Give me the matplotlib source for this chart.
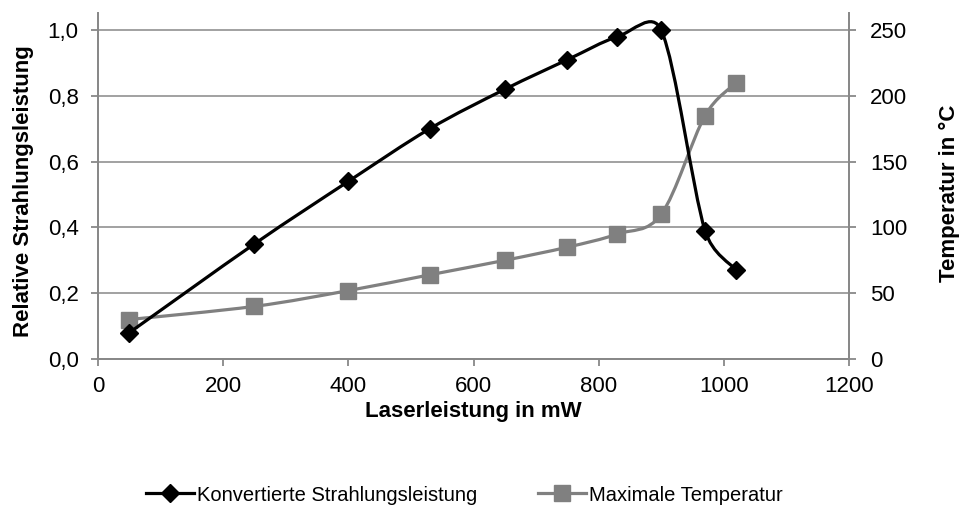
import matplotlib
matplotlib.use('Agg')
import math
import matplotlib.pyplot as plt
from matplotlib.path import Path
from matplotlib.patches import PathPatch
from matplotlib.lines import Line2D
from matplotlib.ticker import FuncFormatter

plt.rcParams['font.family'] = ['Liberation Sans', 'DejaVu Sans']

laser_mw = [50, 250, 400, 530, 650, 750, 830, 900, 970, 1020]
rel_leistung = [0.08, 0.35, 0.54, 0.70, 0.82, 0.91, 0.98, 1.00, 0.39, 0.27]
temperatur = [30, 40, 52, 64, 75, 85, 95, 110, 185, 210]

label_black = 'Konvertierte Strahlungsleistung'
label_gray = 'Maximale Temperatur'

BLACK = '#000000'
GRAY = '#808080'
AXIS = '#888888'


def smooth_path(a, xs, ys):
    # spreadsheet-style smoothed line: bezier segments, handles limited
    # to half the segment length (worked out in pixel space)
    tr = a.transData
    pts = [tuple(p) for p in tr.transform(list(zip(xs, ys)))]
    n = len(pts)

    def dist(p, q):
        return math.hypot(q[0] - p[0], q[1] - p[1])

    verts = [pts[0]]
    codes = [Path.MOVETO]
    for i in range(n - 1):
        p0 = pts[max(i - 1, 0)]
        p1 = pts[i]
        p2 = pts[i + 1]
        p3 = pts[min(i + 2, n - 1)]
        d12 = dist(p1, p2)
        d02 = dist(p0, p2)
        d13 = dist(p1, p3)
        f0 = min(1 / 6, d12 / 2 / d02) if d02 > 0 else 0
        f1 = min(1 / 6, d12 / 2 / d13) if d13 > 0 else 0
        c1 = (p1[0] + (p2[0] - p0[0]) * f0, p1[1] + (p2[1] - p0[1]) * f0)
        c2 = (p2[0] - (p3[0] - p1[0]) * f1, p2[1] - (p3[1] - p1[1]) * f1)
        verts += [c1, c2, p2]
        codes += [Path.CURVE4] * 3
    verts = tr.inverted().transform(verts)
    return Path(verts, codes)


fig = plt.figure(figsize=(9.65, 5.13), dpi=100)
ax = fig.add_axes([98 / 965, 154 / 513, 751 / 965, 346 / 513])
ax2 = ax.twinx()

# temperature (secondary axis) behind, power curve in front
ax.set_zorder(ax2.get_zorder() + 1)
ax.patch.set_visible(False)

ax.set_xlim(0, 1200)
ax.set_ylim(0, 1.052)
ax2.set_ylim(0, 263)
ax.set_xticks(range(0, 1201, 200))
ax.set_yticks([0, 0.2, 0.4, 0.6, 0.8, 1.0])
ax2.set_yticks(range(0, 251, 50))
ax.yaxis.set_major_formatter(FuncFormatter(lambda v, p: f'{v:.1f}'.replace('.', ',')))

ax2.add_patch(PathPatch(smooth_path(ax2, laser_mw, temperatur), facecolor='none',
                        edgecolor=GRAY, lw=2.3, zorder=2))
ax2.plot(laser_mw, temperatur, linestyle='none', marker='s', markersize=11.5,
         color=GRAY, zorder=3)

ax.add_patch(PathPatch(smooth_path(ax, laser_mw, rel_leistung), facecolor='none',
                       edgecolor=BLACK, lw=2.3, zorder=2))
ax.plot(laser_mw, rel_leistung, linestyle='none', marker='D', markersize=9.5,
        color=BLACK, zorder=3)

ax2.yaxis.grid(True, color=AXIS, lw=1.1)
ax2.set_axisbelow(True)

for a in (ax, ax2):
    a.spines['top'].set_visible(False)
    for s in ('left', 'right', 'bottom'):
        a.spines[s].set_color(AXIS)
        a.spines[s].set_linewidth(1.3)

ax.tick_params(axis='y', direction='out', length=5, width=1.3, color=AXIS,
               labelsize=16, pad=9)
ax.tick_params(axis='x', direction='out', length=5, width=1.3, color=AXIS,
               labelsize=16, pad=7)
ax2.tick_params(axis='y', direction='out', length=5, width=1.3, color=AXIS,
                labelsize=16, pad=10)

ax.set_xlabel('Laserleistung in mW', fontsize=16, fontweight='bold', labelpad=3)
ax.set_ylabel('Relative Strahlungsleistung', fontsize=16, fontweight='bold')
ax2.set_ylabel('Temperatur in °C', fontsize=16, fontweight='bold')
ax.yaxis.set_label_coords(-0.085, 0.486)
ax2.yaxis.set_label_coords(1.12, 0.48)

handles = [
    Line2D([], [], color=BLACK, lw=2.3, marker='D', markersize=9.5),
    Line2D([], [], color=GRAY, lw=2.3, marker='s', markersize=11.5),
]
fig.legend(handles, [label_black, label_gray], loc='center',
           bbox_to_anchor=(0.481, 0.035), ncol=2, frameon=False, fontsize=14.5,
           handlelength=2.4, handletextpad=0.15, columnspacing=3.0)

fig.savefig('out.png', dpi=100)
